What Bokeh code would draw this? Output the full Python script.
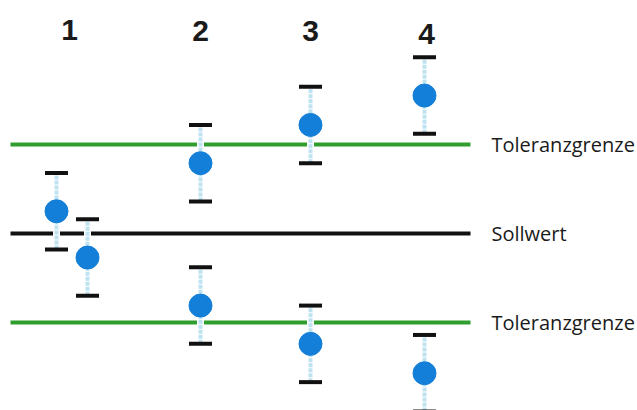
from bokeh.plotting import figure
from bokeh.models import Range1d, ColumnDataSource
from bokeh.core.properties import value
from bokeh.embed import file_html
from bokeh.resources import INLINE

# --- data ---
xs_all = [0.56, 0.87, 2.00, 2.00, 3.10, 3.10, 4.24, 4.24]
ys_all = [0.25, -0.27, 0.79, -0.81, 1.22, -1.24, 1.55, -1.57]
err = [0.43, 0.43, 0.43, 0.43, 0.43, 0.43, 0.43, 0.43]
group_labels = ["1", "2", "3", "4"]
group_x = [0.69, 2.00, 3.10, 4.26]
group_y = [2.29, 2.27, 2.27, 2.24]
ref_names = ["Toleranzgrenze", "Sollwert", "Toleranzgrenze"]
ref_values = [1.0, 0.0, -1.0]
ref_colors = ["#2f9e2f", "#111111", "#2f9e2f"]
line_start, line_end = 0.10, 4.70

W, H = 637, 410
p = figure(width=W, height=H, output_backend="svg", toolbar_location=None,
           x_range=Range1d(0.0, W / 100.0),
           y_range=Range1d(-(H - 233) / 89.0, 233 / 89.0),
           min_border=0, outline_line_color=None)
p.axis.visible = False
p.grid.visible = False
p.background_fill_color = "white"
p.border_fill_color = "white"

# reference lines
for v, c in zip(ref_values, ref_colors):
    p.segment(x0=[line_start], y0=[v], x1=[line_end], y1=[v], line_color=c, line_width=4)

lo = [y - e for y, e in zip(ys_all, err)]
hi = [y + e for y, e in zip(ys_all, err)]
src = ColumnDataSource(dict(x=xs_all, y=ys_all, lo=lo, hi=hi,
                            cl=[x - 0.115 for x in xs_all], cr=[x + 0.115 for x in xs_all]))

# white gap + light blue error line
p.segment(x0="x", y0="lo", x1="x", y1="hi", source=src, line_color="white", line_width=7)
p.segment(x0="x", y0="lo", x1="x", y1="hi", source=src, line_color="#bfe2f1", line_width=4, line_dash="4 1")
# caps
p.segment(x0="cl", y0="hi", x1="cr", y1="hi", source=src, line_color="#111111", line_width=4)
p.segment(x0="cl", y0="lo", x1="cr", y1="lo", source=src, line_color="#111111", line_width=4)
# points
p.scatter(x="x", y="y", source=src, size=23, fill_color="#137fd8", line_color="#137fd8")

# group labels
p.text(x=group_x, y=group_y, text=group_labels, text_font=value("Liberation Sans"),
       text_font_style="bold", text_font_size="30px", text_align="center",
       text_baseline="middle", text_color="#1a1a1a")

# reference labels
p.text(x=[4.91] * 3, y=ref_values, text=ref_names, text_font=value("Open Sans"),
       text_font_size="20px", text_align="left", text_baseline="middle", text_color="#1a1a1a")

open("out.html", "w").write(file_html(p, INLINE))
